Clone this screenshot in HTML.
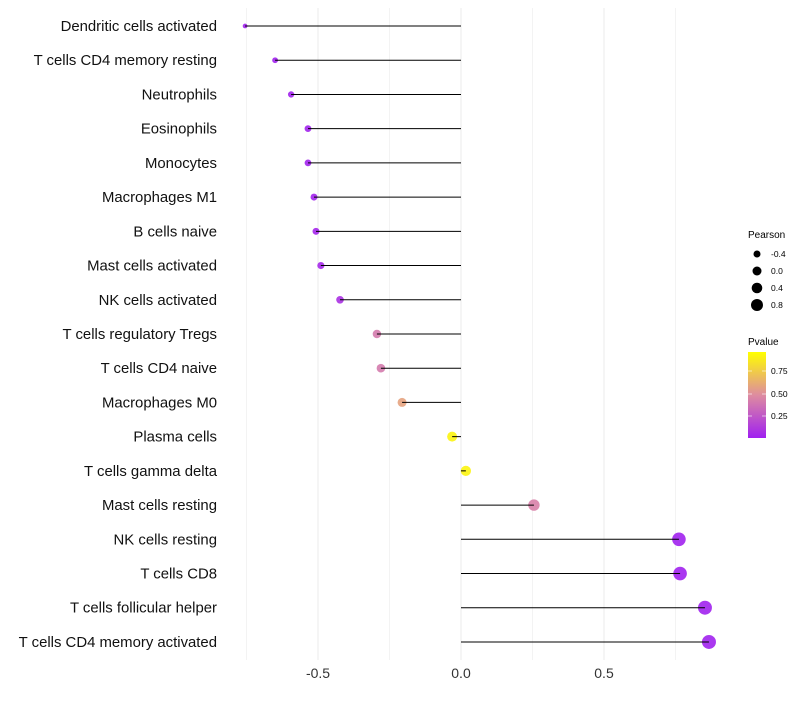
<!DOCTYPE html>
<html><head><meta charset="utf-8"><style>
body{margin:0;background:#fff;font-family:"Liberation Sans",sans-serif;}
svg text{font-family:"Liberation Sans",sans-serif;}
</style></head><body>
<svg id="chart" width="800" height="700" xmlns="http://www.w3.org/2000/svg">
<defs><linearGradient id="pg" x1="0" y1="1" x2="0" y2="0">
<stop offset="0" stop-color="rgb(160,32,240)"/><stop offset="0.5" stop-color="rgb(222,140,160)"/><stop offset="1" stop-color="rgb(255,255,0)"/>
</linearGradient></defs>
<g id="grid"></g>
<g id="marks"></g>
<g id="ylabels"></g>
<g id="xlabels"></g>
<g>
<text x="748" y="238" font-size="10" fill="#000">Pearson</text>
<circle cx="757" cy="254" r="3.5" fill="#000"/><text x="771" y="257" font-size="8.5">-0.4</text>
<circle cx="757" cy="271" r="4.5" fill="#000"/><text x="771" y="274" font-size="8.5">0.0</text>
<circle cx="757" cy="288" r="5.3" fill="#000"/><text x="771" y="291" font-size="8.5">0.4</text>
<circle cx="757" cy="305" r="6" fill="#000"/><text x="771" y="308" font-size="8.5">0.8</text>
</g>
<g>
<text x="748" y="345" font-size="10" fill="#000">Pvalue</text>
<rect x="748" y="352" width="18" height="86" fill="url(#pg)"/>
<line x1="748" y1="371" x2="752" y2="371" stroke="#fff" opacity="0.6"/><line x1="762" y1="371" x2="766" y2="371" stroke="#fff" opacity="0.6"/>
<line x1="748" y1="394" x2="752" y2="394" stroke="#fff" opacity="0.6"/><line x1="762" y1="394" x2="766" y2="394" stroke="#fff" opacity="0.6"/>
<line x1="748" y1="416" x2="752" y2="416" stroke="#fff" opacity="0.6"/><line x1="762" y1="416" x2="766" y2="416" stroke="#fff" opacity="0.6"/>
<text x="771" y="374" font-size="8.5">0.75</text><text x="771" y="397" font-size="8.5">0.50</text><text x="771" y="419" font-size="8.5">0.25</text>
</g>
</svg>
<script>
const categories=["Dendritic cells activated","T cells CD4 memory resting","Neutrophils","Eosinophils","Monocytes","Macrophages M1","B cells naive","Mast cells activated","NK cells activated","T cells regulatory  Tregs ","T cells CD4 naive","Macrophages M0","Plasma cells","T cells gamma delta","Mast cells resting","NK cells resting","T cells CD8","T cells follicular helper","T cells CD4 memory activated"];
const pearson=[-0.755,-0.65,-0.594,-0.535,-0.535,-0.514,-0.507,-0.49,-0.423,-0.294,-0.28,-0.206,-0.031,0.017,0.255,0.762,0.766,0.853,0.867];
const pvalues=[0.01,0.01,0.02,0.02,0.02,0.02,0.03,0.04,0.08,0.42,0.42,0.6,0.95,0.95,0.45,0.01,0.01,0.01,0.01];
const xTicks=[-0.5,0,0.5];
const xTickLabels=["-0.5","0.0","0.5"];
const NS="http://www.w3.org/2000/svg";
const xs=v=>461+v*286;
const ys=i=>26+i*34.22;
function col(p){const a=[160,32,240],b=[222,140,160],c=[255,255,0];let t,u,w;if(p<0.5){t=p/0.5;u=a;w=b;}else{t=(p-0.5)/0.5;u=b;w=c;}return "rgb("+u.map((k,j)=>Math.round(k+(w[j]-k)*t)).join(",")+")";}
function mk(tag,at,parent){const e=document.createElementNS(NS,tag);for(const k in at)e.setAttribute(k,at[k]);parent.appendChild(e);return e;}
const grid=document.getElementById('grid'),marks=document.getElementById('marks'),yl=document.getElementById('ylabels'),xl=document.getElementById('xlabels');
for(let v=-0.75;v<=0.76;v+=0.25){const g=mk('line',{x1:xs(v),x2:xs(v),y1:8,y2:660,stroke:'#ebebeb','stroke-width':Math.abs(v*4)%2<0.01?1:0.6},grid);

}
xTicks.forEach((v,i)=>{const t=mk('text',{x:xs(v),y:678,'font-size':14,'text-anchor':'middle',fill:'#333'},xl);t.textContent=xTickLabels[i];

});
categories.forEach((c,i)=>{const y=ys(i),v=pearson[i];
const t=mk('text',{x:217,y:y+5,'font-size':14.9,'text-anchor':'end',fill:'#111'},yl);t.textContent=c;


const r=Math.max(1.5,Math.sqrt(Math.max(0,25.8+26.7*v)));
const d=mk('circle',{cx:xs(v),cy:y,r:r,fill:col(pvalues[i]),opacity:0.9},marks);


const l=mk('line',{x1:xs(0),x2:xs(v),y1:y,y2:y,stroke:'#000','stroke-width':1},marks);

});
</script>
</body></html>
